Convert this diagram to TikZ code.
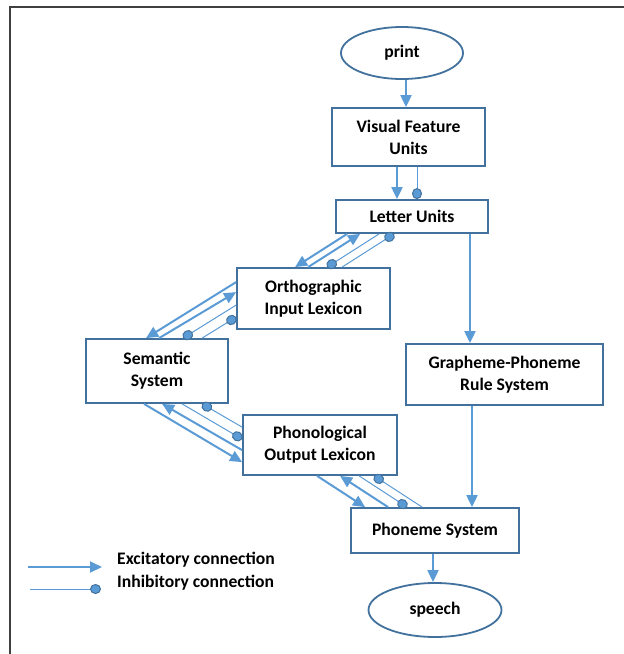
\documentclass[tikz,border=0pt]{standalone}
\usepackage{fontspec}
\setmainfont{Carlito}
\usetikzlibrary{arrows.meta,shapes.geometric,calc}
\definecolor{lineblue}{RGB}{91,155,213}
\definecolor{boxblue}{RGB}{65,113,156}
\definecolor{framegray}{RGB}{64,64,64}
\begin{document}
\begin{tikzpicture}[x=1pt,y=-1pt,
  txt/.style={font=\fontsize{17.6}{22}\selectfont\bfseries,text=black},
  box/.style={txt,rectangle,draw=boxblue,line width=1.8pt,fill=white,inner sep=0pt,align=center},
  oval/.style={txt,ellipse,draw=boxblue,line width=1.8pt,fill=white,inner sep=0pt},
  exc/.style={draw=lineblue,line width=2pt,-{Triangle[length=12pt,width=11pt]}},
  inh/.style={draw=lineblue,line width=1pt,-{Circle[length=11pt,width=10pt,fill=lineblue,color=boxblue,line width=1pt]}},
  legend/.style={txt,inner sep=0pt,anchor=west}]
\useasboundingbox (0,0) rectangle (624,654);
\draw[framegray,line width=1.5pt] (624,7) -- (10,7) -- (10,654);

\node[oval,minimum width=122pt,minimum height=52pt] (print) at (402,53) {print};
\node[box,minimum width=153pt,minimum height=58pt] (vfu) at (408.5,137) {Visual Feature\\Units};
\node[box,minimum width=152pt,minimum height=33pt] (lu) at (412,216.5) {Letter Units};
\node[box,minimum width=153pt,minimum height=61pt] (oil) at (313.5,298.5) {Orthographic\\Input Lexicon};
\node[box,minimum width=142pt,minimum height=64pt] (ss) at (157,371) {Semantic\\System};
\node[box,minimum width=154pt,minimum height=60pt] (pol) at (320,445) {Phonological\\Output Lexicon};
\node[box,minimum width=197pt,minimum height=61pt] (gp) at (504.5,374.5) {Grapheme-Phoneme\\Rule System};
\node[box,minimum width=168pt,minimum height=45pt] (ps) at (435,530.5) {Phoneme System};
\node[oval,minimum width=133pt,minimum height=54pt] (speech) at (435,610) {speech};

% vertical connections
\draw[exc] ($(print.south)+(4,0)$) -- ($(vfu.north)+(-2.5,0)$);
\draw[exc] ($(vfu.south)+(-11.5,0)$) -- ($(lu.north)+(-15,0)$);
\draw[inh] ($(vfu.south)+(8.5,0)$) -- ($(lu.north)+(5,0)$);
\draw[exc] ($(lu.south)+(58,0)$) -- ($(gp.north)+(-34.5,0)$);
\draw[exc] ($(gp.south)+(-32.5,0)$) -- ($(ps.north)+(37,0)$);
\draw[exc] ($(ps.south)+(-2,0)$) -- ($(speech.north)+(-2,0)$);

% Letter Units <-> Orthographic Input Lexicon
\draw[exc] ($(lu.south west)+(12,0)$) -- ($(oil.north west)+(59,0)$);
\draw[exc] ($(oil.north west)+(72,0)$) -- ($(lu.south west)+(25,0)$);
\draw[inh] ($(lu.south west)+(44,0)$) -- ($(oil.north west)+(91,0)$);
\draw[inh] ($(oil.north west)+(106,0)$) -- ($(lu.south west)+(59,0)$);

% Orthographic Input Lexicon <-> Semantic System
\draw[exc] ($(oil.north west)+(0,15)$) -- ($(ss.north west)+(61,0)$);
\draw[exc] ($(ss.north west)+(74,0)$) -- ($(oil.north west)+(0,25)$);
\draw[inh] ($(oil.north west)+(0,38)$) -- ($(ss.north west)+(98,0)$);
\draw[inh] ($(ss.north west)+(117,0)$) -- ($(oil.north west)+(0,50)$);

% Semantic System <-> Phonological Output Lexicon
\draw[exc] ($(ss.south west)+(59,0)$) -- ($(pol.north west)+(0,48)$);
\draw[exc] ($(pol.north west)+(0,36)$) -- ($(ss.south west)+(77,0)$);
\draw[inh] ($(ss.south west)+(97,0)$) -- ($(pol.north west)+(0,25)$);
\draw[inh] ($(pol.north west)+(0,13)$) -- ($(ss.south west)+(117,0)$);

% Phonological Output Lexicon <-> Phoneme System
\draw[exc] ($(pol.south west)+(75,0)$) -- ($(ps.north west)+(15,0)$);
\draw[exc] ($(ps.north west)+(38,0)$) -- ($(pol.south west)+(98,0)$);
\draw[inh] ($(pol.south west)+(117,0)$) -- ($(ps.north west)+(57,0)$);
\draw[inh] ($(ps.north west)+(72,0)$) -- ($(pol.south west)+(132,0)$);

% legend
\coordinate (e1) at (28,567);
\coordinate (e2) at (102,567);
\coordinate (i1) at (30,589);
\coordinate (i2) at (101,589);
\draw[exc] (e1) -- (e2);
\draw[inh] (i1) -- (i2);
\node[legend] (lexc) at (117,560) {Excitatory connection};
\node[legend] (linh) at (117,583) {Inhibitory connection};
\end{tikzpicture}
\end{document}
